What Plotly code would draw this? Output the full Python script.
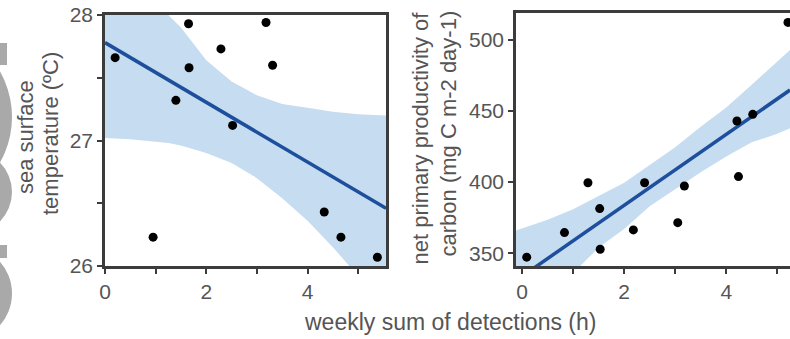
import plotly.graph_objects as go

# ---------------- data ----------------
# left panel: weekly detections vs sea surface temperature
sst_x = [0.20, 0.95, 1.40, 1.65, 1.66, 2.29, 2.52, 3.18, 3.31, 4.33, 4.66, 5.38]
sst_y = [27.66, 26.23, 27.32, 27.93, 27.58, 27.73, 27.12, 27.94, 27.60, 26.43, 26.23, 26.07]
sst_fit_x = [0.0, 5.55]
sst_fit_y = [27.78, 26.46]
sst_band_x = [0, 0.5, 1.0, 1.25, 1.5, 2.0, 2.5, 3.0, 3.5, 4.0, 4.5, 5.0, 5.55]
sst_band_hi = [28.54, 28.33, 28.12, 28.0, 27.90, 27.64, 27.47, 27.36, 27.29, 27.26, 27.23, 27.21, 27.20]
sst_band_lo = [27.02, 27.01, 26.99, 26.98, 26.96, 26.90, 26.82, 26.70, 26.54, 26.36, 26.15, 25.92, 25.70]

# right panel: weekly detections vs net primary productivity
npp_x = [0.09, 0.83, 1.29, 1.52, 1.53, 2.18, 2.40, 3.05, 3.18, 4.21, 4.24, 4.52, 5.21]
npp_y = [347.2, 364.5, 399.6, 381.4, 352.8, 366.4, 399.6, 371.5, 397.3, 443.0, 403.9, 447.7, 512.4]
npp_fit_x = [-0.12, 5.25]
npp_fit_y = [330.8, 464.8]
npp_band_x = [-0.12, 0.5, 1.0, 1.5, 2.0, 2.5, 3.0, 3.5, 4.0, 4.5, 5.0, 5.25]
npp_band_hi = [366, 373.5, 381, 390.5, 399.5, 412, 424.5, 439, 452.5, 468.5, 484.5, 493]
npp_band_lo = [296, 319, 336, 354, 367, 383, 395, 407, 418, 428, 434, 438]

x_ticks = [0, 1, 2, 3, 4, 5]
x_ticktext = ["0", "", "2", "", "4", ""]
sst_ticks = [26, 26.5, 27, 27.5, 28]
sst_ticktext = ["26", "", "27", "", "28"]
npp_ticks = [350, 400, 450, 500]
npp_ticktext = ["350", "400", "450", "500"]

sst_title = ["sea surface", "temperature (ºC)"]
npp_title = ["net primary productivity of", "carbon (mg C m-2 day-1)"]
x_title = "weekly sum of detections (h)"

# ---------------- style ----------------
W, H = 790, 339
BAND = "#c6dcf0"
LINE = "#1d4f9c"
AX = "#3c3c3c"
TXT = "#555555"
FONT = "Liberation Sans, Arial, sans-serif"

fig = go.Figure()

def add_panel(bx, hi, lo, fx, fy, px, py, xa, ya):
    fig.add_trace(go.Scatter(x=bx + bx[::-1], y=hi + lo[::-1], fill="toself",
                             fillcolor=BAND, line=dict(width=0), mode="lines",
                             hoverinfo="skip", showlegend=False, xaxis=xa, yaxis=ya))
    fig.add_trace(go.Scatter(x=fx, y=fy, mode="lines", line=dict(color=LINE, width=3.5),
                             showlegend=False, xaxis=xa, yaxis=ya))
    fig.add_trace(go.Scatter(x=px, y=py, mode="markers",
                             marker=dict(color="black", size=9), cliponaxis=True,
                             showlegend=False, xaxis=xa, yaxis=ya))

add_panel(sst_band_x, sst_band_hi, sst_band_lo, sst_fit_x, sst_fit_y, sst_x, sst_y, "x", "y")
add_panel(npp_band_x, npp_band_hi, npp_band_lo, npp_fit_x, npp_fit_y, npp_x, npp_y, "x2", "y2")

axis_common = dict(showgrid=False, zeroline=False, showline=True, linecolor=AX, linewidth=2.5,
                   ticks="outside", ticklen=5, tickwidth=2, tickcolor=AX, automargin=False,
                   tickfont=dict(family=FONT, size=21, color=TXT))

def py(p):  # pixel row -> paper y
    return 1 - p / H

fig.update_layout(
    width=W, height=H, margin=dict(l=0, r=0, t=0, b=0, pad=0, autoexpand=False),
    paper_bgcolor="white", plot_bgcolor="white", showlegend=False,
    xaxis=dict(domain=[105 / W, 386 / W], range=[0, 5.55], tickvals=x_ticks,
               ticktext=x_ticktext, mirror=True, anchor="y", **axis_common),
    yaxis=dict(domain=[py(266), py(15)], range=[26, 28], tickvals=sst_ticks,
               ticktext=sst_ticktext, mirror=True, anchor="x", **axis_common),
    xaxis2=dict(domain=[516 / W, 1.0], range=[-0.12, 5.25], tickvals=x_ticks,
                ticktext=x_ticktext, mirror=True, anchor="y2", **axis_common),
    yaxis2=dict(domain=[py(266), py(13)], range=[341, 519], tickvals=npp_ticks,
                ticktext=npp_ticktext, mirror=False, anchor="x2", **axis_common),
)

title_font = dict(family=FONT, size=22, color=TXT)
for txt, xc, yc in [(sst_title[0], 25, 137), (sst_title[1], 50, 134),
                    (npp_title[0], 420, 137.5), (npp_title[1], 448, 133.5)]:
    fig.add_annotation(text=txt, textangle=-90, xref="paper", yref="paper",
                       x=xc / W, y=py(yc), xanchor="center", yanchor="middle",
                       showarrow=False, font=title_font)
fig.add_annotation(text=x_title, xref="paper", yref="paper", x=450 / W, y=py(322),
                   xanchor="center", yanchor="middle", showarrow=False,
                   font=dict(family=FONT, size=23, color=TXT))

# clipped grey fragments at the far left edge (decorative)
G = "#a9a9a9"
def px_rect(x0, y0, x1, y1, kind="rect"):
    fig.add_shape(type=kind, xref="paper", yref="paper",
                  x0=x0 / W, x1=x1 / W, y0=py(y1), y1=py(y0),
                  fillcolor=G, line=dict(width=0), layer="below")

px_rect(-10, 43, 7, 65)
px_rect(-172, 25, 12, 209, "circle")
px_rect(-72, 150, 12, 234, "circle")
px_rect(-10, 245, 7, 258)
px_rect(-82, 246, 12, 341, "circle")

fig.write_html("out.html")
